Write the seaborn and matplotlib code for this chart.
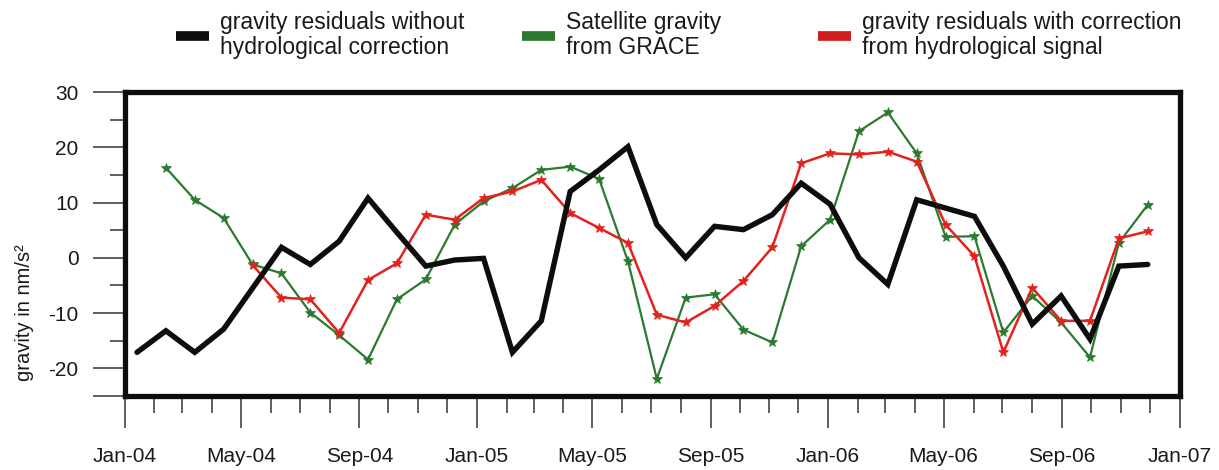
import numpy as np
import pandas as pd
import matplotlib
matplotlib.use("Agg")
import matplotlib.pyplot as plt
import matplotlib.dates as mdates
from matplotlib.lines import Line2D
from matplotlib.ticker import FixedLocator, FuncFormatter
import seaborn as sns

sns.set_style("ticks")
plt.rcParams["font.family"] = ["Liberation Sans", "DejaVu Sans"]

# Sampling epochs of the monthly solutions (Jan 2004 - Dec 2006)
epochs = pd.date_range("2004-01-14", periods=36, freq="30D")

# Superconducting gravimeter residuals, no hydrological correction (nm/s^2)
residuals_raw = [-17.1, -13.2, -17.1, -12.9, -5.5, 1.9, -1.2, 3.0, 10.8, 4.6, -1.5, -0.4,
                 -0.1, -17.1, -11.4, 12.0, 15.9, 20.1, 6.0, 0.0, 5.7, 5.1, 7.8, 13.5,
                 9.7, 0.0, -4.8, 10.5, 9.0, 7.5, -1.5, -12.0, -6.9, -14.7, -1.5, -1.2]

# GRACE satellite gravity, available from the second epoch on
grace = [16.3, 10.5, 7.2, -1.2, -2.8, -9.9, -14.0, -18.4, -7.5, -3.9, 6.0,
         10.2, 12.6, 15.9, 16.5, 14.3, -0.6, -21.9, -7.2, -6.6, -13.0, -15.3, 2.1,
         6.9, 22.9, 26.3, 18.9, 3.8, 3.9, -13.5, -6.9, -11.7, -18.0, 2.7, 9.6]

# Residuals corrected with the hydrological signal, from the fifth epoch on
residuals_corr = [-1.3, -7.2, -7.5, -13.6, -4.0, -1.0, 7.8, 6.9,
                  10.8, 12.0, 14.1, 8.1, 5.4, 2.7, -10.3, -11.7, -8.7, -4.2, 1.9, 17.1,
                  18.9, 18.7, 19.2, 17.4, 6.0, 0.3, -17.1, -5.4, -11.4, -11.4, 3.5, 4.8]

labels = ["gravity residuals without\nhydrological correction",
          "Satellite gravity\nfrom GRACE",
          "gravity residuals with correction\nfrom hydrological signal"]

BLACK = "#0d0d0d"
GREEN = "#2b7a30"
RED = "#e3221e"

df_raw = pd.DataFrame({"date": epochs, "gravity": residuals_raw})
df_grace = pd.DataFrame({"date": epochs[1:], "gravity": grace})
df_corr = pd.DataFrame({"date": epochs[4:], "gravity": residuals_corr})

W, H = 1219, 470
fig = plt.figure(figsize=(W / 100, H / 100), dpi=100)
ax = fig.add_axes([124.5 / W, (H - 396) / H, 1055 / W, 304 / H])

sns.lineplot(data=df_grace, x="date", y="gravity", ax=ax, color=GREEN,
             linewidth=1.6, marker="*", markersize=7, markeredgewidth=0.5,
             markeredgecolor=GREEN, zorder=2)
sns.lineplot(data=df_corr, x="date", y="gravity", ax=ax, color=RED,
             linewidth=1.8, marker="*", markersize=7, markeredgewidth=0.5,
             markeredgecolor=RED, zorder=3)
sns.lineplot(data=df_raw, x="date", y="gravity", ax=ax, color=BLACK,
             linewidth=3.9, solid_joinstyle="miter", zorder=4)

ax.set_xlim(pd.Timestamp("2004-01-01"), pd.Timestamp("2007-01-01"))
ax.xaxis.set_major_locator(mdates.MonthLocator(bymonth=[1, 5, 9]))
ax.xaxis.set_minor_locator(mdates.MonthLocator())
ax.xaxis.set_major_formatter(mdates.DateFormatter("%b-%y"))

ax.set_ylim(-25, 30)
ax.yaxis.set_major_locator(FixedLocator([-25, -20, -10, 0, 10, 20, 30]))
ax.yaxis.set_minor_locator(FixedLocator([-15, -5, 5, 15, 25]))
ax.yaxis.set_major_formatter(FuncFormatter(lambda v, p: "" if v == -25 else f"{v:.0f}"))

for s in ax.spines.values():
    s.set_linewidth(3.8)
    s.set_color(BLACK)
    s.set_visible(True)

ax.tick_params(axis="x", which="major", length=23, width=1.2, color="#444",
               labelsize=15, pad=14, labelcolor="#1a1a1a")
ax.tick_params(axis="x", which="minor", length=12, width=1.2, color="#444")
ax.tick_params(axis="y", which="major", length=23, width=1.2, color="#444",
               labelsize=15, pad=10, labelcolor="#1a1a1a")
ax.tick_params(axis="y", which="minor", length=11, width=1.2, color="#444")

ax.set_xlabel("")
ax.set_ylabel("gravity in nm/s²", fontsize=14.5, color="#1a1a1a")
ax.yaxis.set_label_coords((24 - 124.5) / 1055, (396 - 313) / 304)
ax.yaxis.label.set_verticalalignment("center")

# Legend: one entry per block along the top
anchors = [176, 522, 818]
for lab, col, xpx in zip(labels, [BLACK, GREEN, "#cf1d1d"], anchors):
    h = Line2D([], [], color=col, linewidth=7, solid_capstyle="butt")
    leg = fig.legend([h], [lab], loc="upper left",
                     bbox_to_anchor=(xpx / W, 1 - 11 / H),
                     frameon=False, fontsize=16.5, handlelength=1.45,
                     handletextpad=0.48, borderpad=0, borderaxespad=0)
    for t in leg.get_texts():
        t.set_linespacing(1.1)
        t.set_color("#1a1a1a")

fig.savefig("out.png", dpi=100)
